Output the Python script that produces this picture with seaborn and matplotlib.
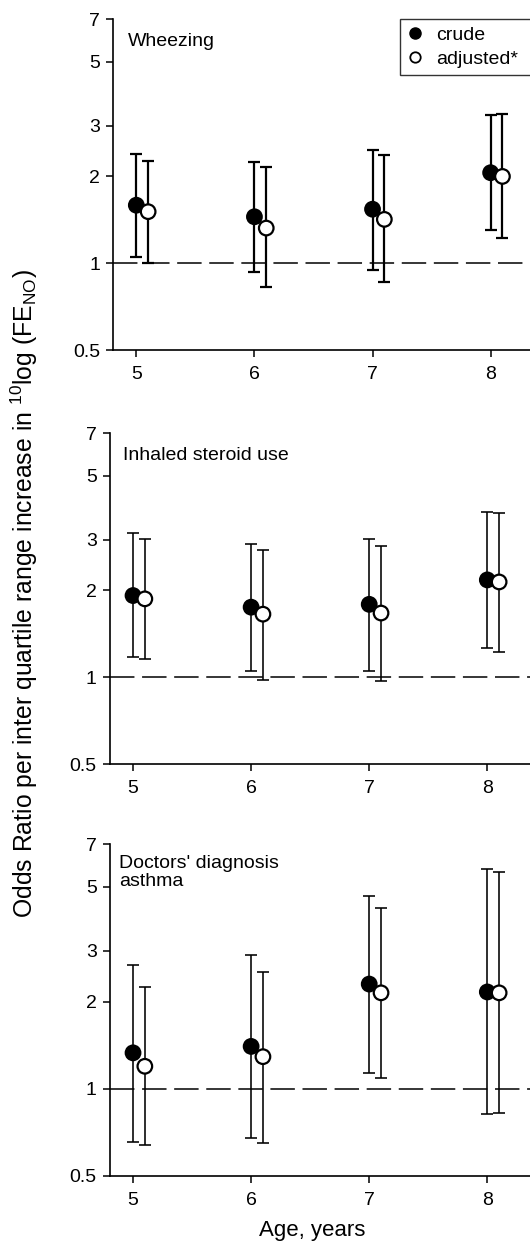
# Odds ratios (crude vs adjusted) per IQR increase in 10log(FeNO), by age and outcome.
import numpy as np
import pandas as pd
import matplotlib
matplotlib.use("Agg")
import matplotlib.pyplot as plt
import seaborn as sns
from matplotlib.lines import Line2D
from matplotlib.ticker import FixedLocator, FixedFormatter, NullLocator

# %%
ages = [5, 6, 7, 8]
outcomes = ["Wheezing", "Inhaled steroid use", "Doctors' diagnosis\nasthma"]
estimates = ["crude", "adjusted*"]

# Wheezing
wheeze_crude = [1.59, 1.45, 1.54, 2.06]
wheeze_crude_lo = [1.055, 0.93, 0.95, 1.30]
wheeze_crude_hi = [2.40, 2.24, 2.47, 3.26]
wheeze_adj = [1.51, 1.325, 1.42, 2.00]
wheeze_adj_lo = [1.00, 0.826, 0.86, 1.22]
wheeze_adj_hi = [2.26, 2.15, 2.37, 3.29]

# Inhaled steroid use
steroid_crude = [1.92, 1.75, 1.79, 2.175]
steroid_crude_lo = [1.18, 1.05, 1.05, 1.26]
steroid_crude_hi = [3.15, 2.90, 3.02, 3.74]
steroid_adj = [1.87, 1.655, 1.67, 2.14]
steroid_adj_lo = [1.16, 0.98, 0.97, 1.22]
steroid_adj_hi = [3.02, 2.76, 2.85, 3.72]

# Doctors' diagnosis asthma
asthma_crude = [1.33, 1.40, 2.30, 2.16]
asthma_crude_lo = [0.655, 0.676, 1.13, 0.815]
asthma_crude_hi = [2.68, 2.90, 4.64, 5.77]
asthma_adj = [1.195, 1.29, 2.145, 2.145]
asthma_adj_lo = [0.636, 0.65, 1.086, 0.821]
asthma_adj_hi = [2.24, 2.53, 4.21, 5.60]

ytick_vals = [0.5, 1, 2, 3, 5, 7]
ytick_labels = ["0.5", "1", "2", "3", "5", "7"]

# %%
rows = []
series = [
    (wheeze_crude, wheeze_crude_lo, wheeze_crude_hi, wheeze_adj, wheeze_adj_lo, wheeze_adj_hi),
    (steroid_crude, steroid_crude_lo, steroid_crude_hi, steroid_adj, steroid_adj_lo, steroid_adj_hi),
    (asthma_crude, asthma_crude_lo, asthma_crude_hi, asthma_adj, asthma_adj_lo, asthma_adj_hi),
]
for outcome, (c, clo, chi, a, alo, ahi) in zip(outcomes, series):
    for i, age in enumerate(ages):
        rows.append(dict(outcome=outcome, age=age, estimate="crude", OR=c[i], lo=clo[i], hi=chi[i]))
        rows.append(dict(outcome=outcome, age=age, estimate="adjusted*", OR=a[i], lo=alo[i], hi=ahi[i]))
df = pd.DataFrame(rows)
df["xpos"] = df["age"] + np.where(df["estimate"] == "crude", 0.0, 0.1)

# %%
sns.set_style("ticks")
plt.rcParams["font.family"] = ["Liberation Sans", "DejaVu Sans"]
plt.rcParams["mathtext.fontset"] = "custom"
plt.rcParams["mathtext.rm"] = "Liberation Sans"
plt.rcParams["mathtext.it"] = "Liberation Sans"
plt.rcParams["text.color"] = "black"
plt.rcParams["axes.labelcolor"] = "black"

W, H = 530, 1241
fig = plt.figure(figsize=(W / 100, H / 100), dpi=100)

# axes boxes in pixels: left spine x, top (y=7), bottom (y=0.5)
boxes = [(113.3, 19.3, 350.3), (110, 433.3, 764.3), (110, 844.3, 1175.7)]
text_pos = [(128, 33.3), (123, 446.7), (119, 855)]
xmin, xmax = 4.805, 8.5
px_per_year = 118.1
lws = [1.6, 1.15, 1.15]

for k, (outcome, (left, top, bottom)) in enumerate(zip(outcomes, boxes)):
    width = (xmax - xmin) * px_per_year
    ax = fig.add_axes([left / W, (H - bottom) / H, width / W, (bottom - top) / H])
    sub = df[df["outcome"] == outcome]

    for est in estimates:
        s = sub[sub["estimate"] == est]
        ax.errorbar(s["xpos"], s["OR"], yerr=[s["OR"] - s["lo"], s["hi"] - s["OR"]],
                    fmt="none", ecolor="black", elinewidth=lws[k], capsize=4.5,
                    capthick=lws[k], zorder=2)

    ax.axhline(1, color="black", lw=1.1, ls=(0, (16, 5)), zorder=1)

    sns.scatterplot(data=sub, x="xpos", y="OR", hue="estimate", hue_order=estimates,
                    palette={"crude": "black", "adjusted*": "white"},
                    edgecolor="black", linewidth=1.6, s=110, legend=False,
                    ax=ax, zorder=3)

    ax.set_yscale("log")
    ax.set_ylim(0.5, 7)
    ax.set_xlim(xmin, xmax)
    ax.yaxis.set_major_locator(FixedLocator(ytick_vals))
    ax.yaxis.set_major_formatter(FixedFormatter(ytick_labels))
    ax.yaxis.set_minor_locator(NullLocator())
    ax.set_xticks(ages)
    ax.set_xticklabels([str(a) for a in ages])
    ax.tick_params(axis="both", direction="out", length=5, width=1.1,
                   labelsize=14, color="black", labelcolor="black")
    ax.tick_params(axis="y", pad=4.5)
    ax.tick_params(axis="x", pad=6.5)
    ax.set_xlabel("")
    ax.set_ylabel("")
    sns.despine(ax=ax)
    for sp in ["left", "bottom"]:
        ax.spines[sp].set_linewidth(1.2)
        ax.spines[sp].set_color("black")

    tx, ty = text_pos[k]
    fig.text(tx / W, (H - ty) / H, outcome, fontsize=14, ha="left", va="top",
             linespacing=1.08)

    if k == 0:
        handles = [
            Line2D([], [], ls="none", marker="o", markersize=8, markerfacecolor="black",
                   markeredgecolor="black"),
            Line2D([], [], ls="none", marker="o", markersize=7.5, markerfacecolor="white",
                   markeredgecolor="black", markeredgewidth=1.3),
        ]
        leg_h = 56 / H
        leg = ax.legend(handles, estimates, loc="upper left", mode="expand",
                        bbox_to_anchor=(400 / W, (H - 19.3) / H - leg_h, 150 / W, leg_h),
                        bbox_transform=fig.transFigure, borderaxespad=0,
                        fontsize=14, frameon=True, fancybox=False,
                        handlelength=0.8, handletextpad=0.7, borderpad=0.35,
                        labelspacing=0.33)
        leg.get_frame().set_edgecolor("black")
        leg.get_frame().set_linewidth(1.0)

fig.text(24 / W, (H - 594) / H,
         r"Odds Ratio per inter quartile range increase in ${}^{10}$log (FE$_{\mathrm{NO}}$)",
         rotation=90, fontsize=17.8, ha="center", va="center")
fig.text(312 / W, (H - 1236) / H, "Age, years", fontsize=16, ha="center", va="baseline")

plt.savefig("out.png", dpi=100)
